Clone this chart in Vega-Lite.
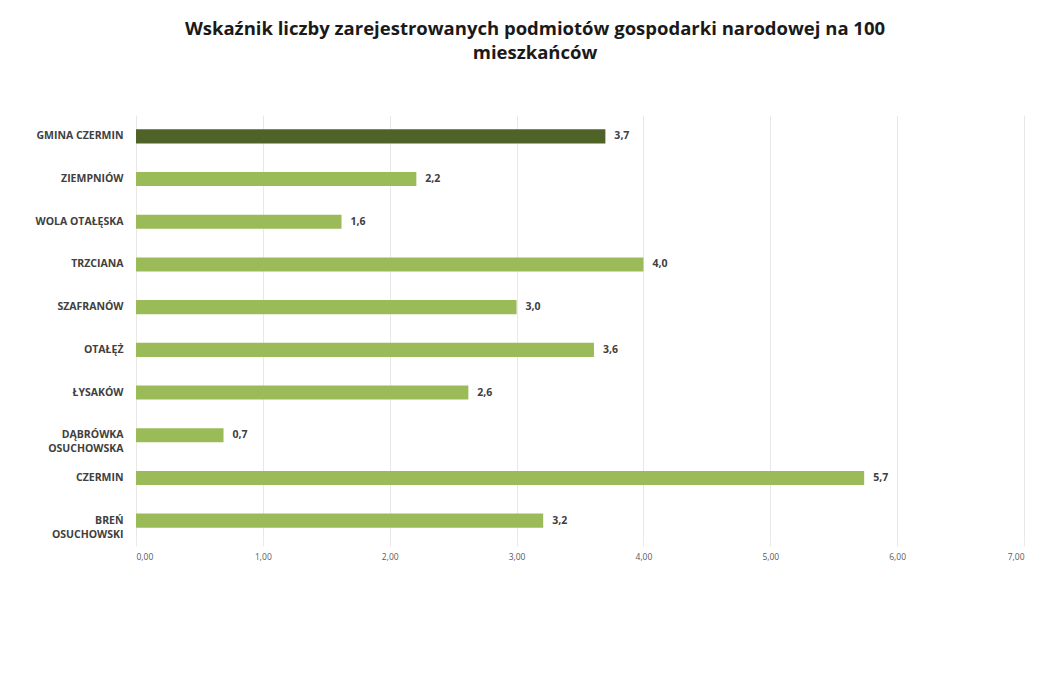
{
  "$schema": "https://vega.github.io/schema/vega-lite/v6.json",
  "autosize": "none",
  "width": 888,
  "height": 427,
  "padding": {"left": 136, "top": 115, "right": 28, "bottom": 137},
  "background": "white",
  "config": {
    "locale": {"number": {"decimal": ",", "thousands": " ", "grouping": [3], "currency": ["", " zł"]}},
    "view": {"stroke": null},
    "font": "Open Sans"
  },
  "title": {
    "text": ["Wskaźnik liczby zarejestrowanych podmiotów gospodarki narodowej na 100", "mieszkańców"],
    "fontSize": 18.5,
    "fontWeight": "bold",
    "color": "#1a1a1a",
    "font": "Open Sans",
    "anchor": "middle",
    "dx": -45,
    "offset": 53,
    "lineHeight": 24
  },
  "data": {
    "values": [
      {"miejscowosc": "GMINA CZERMIN", "wartosc": 3.7, "typ": "gmina"},
      {"miejscowosc": "ZIEMPNIÓW", "wartosc": 2.21, "typ": "soltectwo"},
      {"miejscowosc": "WOLA OTAŁĘSKA", "wartosc": 1.62, "typ": "soltectwo"},
      {"miejscowosc": "TRZCIANA", "wartosc": 4.0, "typ": "soltectwo"},
      {"miejscowosc": "SZAFRANÓW", "wartosc": 3.0, "typ": "soltectwo"},
      {"miejscowosc": "OTAŁĘŻ", "wartosc": 3.61, "typ": "soltectwo"},
      {"miejscowosc": "ŁYSAKÓW", "wartosc": 2.62, "typ": "soltectwo"},
      {"miejscowosc": "DĄBRÓWKA|OSUCHOWSKA", "wartosc": 0.69, "typ": "soltectwo"},
      {"miejscowosc": "CZERMIN", "wartosc": 5.74, "typ": "soltectwo"},
      {"miejscowosc": "BREŃ|OSUCHOWSKI", "wartosc": 3.21, "typ": "soltectwo"}
    ]
  },
  "encoding": {
    "y": {
      "field": "miejscowosc",
      "type": "nominal",
      "sort": null,
      "scale": {"paddingInner": 0.67, "paddingOuter": 0.335},
      "axis": {
        "title": null,
        "domain": false,
        "ticks": false,
        "labelExpr": "split(datum.label, '|')",
        "labelFontSize": 10.5,
        "labelFontWeight": "bold",
        "labelColor": "#404040",
        "labelPadding": 13,
        "labelLineHeight": 14
      }
    },
    "x": {
      "field": "wartosc",
      "type": "quantitative",
      "scale": {"domain": [0, 7], "nice": false},
      "axis": {
        "title": null,
        "values": [0, 1, 2, 3, 4, 5, 6, 7],
        "format": ".2f",
        "grid": true,
        "gridColor": "#e8e8e8",
        "domain": false,
        "tickColor": "#e8e8e8",
        "tickSize": 4,
        "labelFontSize": 8.5,
        "labelColor": "#595959",
        "labelPadding": 6
      }
    }
  },
  "layer": [
    {
      "mark": {"type": "bar"},
      "encoding": {
        "color": {
          "field": "typ",
          "type": "nominal",
          "scale": {"domain": ["gmina", "soltectwo"], "range": ["#4f6228", "#9bbb59"]},
          "legend": null
        }
      }
    },
    {
      "mark": {"type": "text", "align": "left", "dx": 9, "fontSize": 10.5, "fontWeight": "bold", "color": "#404040"},
      "encoding": {
        "text": {"field": "wartosc", "type": "quantitative", "format": ".1f"}
      }
    }
  ]
}
